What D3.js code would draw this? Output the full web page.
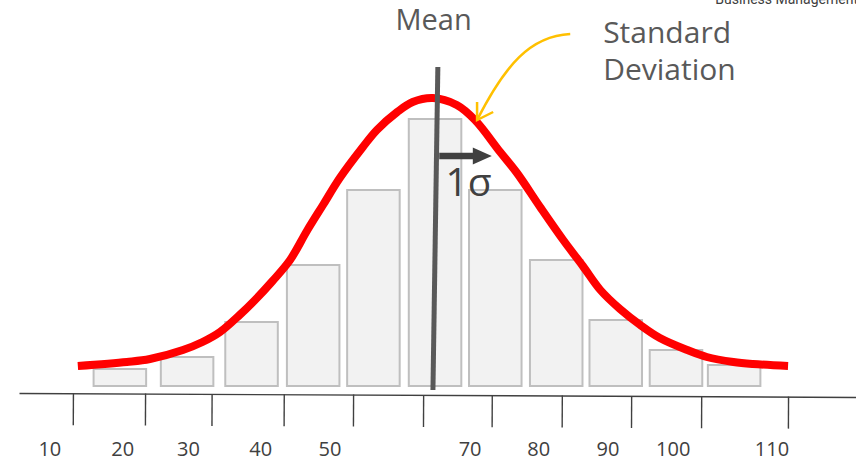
<!DOCTYPE html>
<meta charset="utf-8">
<head>
<title>Normal distribution</title>
<script src="https://d3js.org/d3.v7.min.js"></script>
<style>
body { margin: 0; background: #fff; }
text { font-family: "Segoe UI", "Open Sans", sans-serif; }
.bar { fill: #f2f2f2; stroke: #bfbfbf; stroke-width: 2; }
.axis path, .axis line { stroke: #404040; stroke-width: 1.4; fill: none; }
</style>
</head>
<body>
<script>

// histogram bins (centre of each bin, and its count)
var binCenters = [20.3, 29.9, 39.1, 47.9, 56.5, 65.3, 73.9, 82.6, 91.1, 99.7, 108];
var binCounts  = [17, 29, 64, 121, 196, 267, 196, 126, 66, 36, 21];
var binWidth = 7.5;

// bell curve
var curveX = [14.3, 21.3, 24.6, 29.3, 32.1, 34.6, 37.4, 39.6, 42.1, 44.6, 47, 49.3, 51.7, 55, 57, 59.9, 62.1, 65,
              68.4, 71, 74.6, 77, 80.3, 83.6, 86.4, 88.9, 91.7, 94.6, 97.4, 101.3, 104.1, 107.9, 110.7, 115.7];
var curveY = [20, 24, 27, 36, 44, 54, 71, 86, 105, 126, 155, 181, 208, 239, 256, 274, 284, 288,
              281, 266, 234, 213, 179, 146, 120, 96, 77, 61, 48, 36, 29, 24, 22, 20];

// axis ticks and labels
var tickValues = [13.6, 23.9, 33.4, 43.7, 53.6, 63.6, 73.4, 83.4, 93.3, 103.3, 115.7];
var tickLabels = ["10", "20", "30", "40", "50", "70", "80", "90", "100", "110"];
var labelPos   = [10.3, 20.7, 30.1, 40.4, 50.3, 70.3, 80.1, 90, 99.3, 113.4];

// mean line, sigma arrow
var meanLine = [[65.7, 319], [65, -4]];
var sigma = {x0: 65.9, x1: 73.4, y: 230};

var width = 856, height = 461;

var x = d3.scaleLinear().domain([5.9, 125.4]).range([19, 856]);
var y = d3.scaleLinear().domain([0, 300]).range([386, 86]);

var svg = d3.select("body").append("svg")
    .attr("width", width)
    .attr("height", height);

// header fragment at the top right
svg.append("text")
    .attr("x", 858).attr("y", 4)
    .attr("text-anchor", "end")
    .style("font-family", "Roboto, Arial, sans-serif")
    .style("font-size", "14px")
    .style("fill", "#404040")
    .text("Business Management");

// axis
var axisG = svg.append("g")
    .attr("class", "axis")
    .attr("transform", "translate(0,393) rotate(0.27," + x(5.9) + ",0)")
    .call(d3.axisBottom(x).tickValues(tickValues).tickSize(32).tickSizeOuter(0).tickFormat(""));

svg.selectAll(".tlabel")
    .data(tickLabels)
  .enter().append("text")
    .attr("class", "tlabel")
    .attr("x", function(d, i) { return x(labelPos[i]); })
    .attr("y", 455.5)
    .attr("text-anchor", "middle")
    .style("font-size", "20px")
    .style("fill", "#404040")
    .text(function(d) { return d; });

// bars
svg.selectAll(".bar")
    .data(binCounts)
  .enter().append("rect")
    .attr("class", "bar")
    .attr("x", function(d, i) { return x(binCenters[i] - binWidth / 2); })
    .attr("width", x(binWidth) - x(0))
    .attr("y", function(d) { return y(d); })
    .attr("height", function(d) { return y(0) - y(d); });

// red bell curve
var line = d3.line()
    .x(function(d, i) { return x(curveX[i]); })
    .y(function(d) { return y(d); })
    .curve(d3.curveCatmullRom);

svg.append("path")
    .datum(curveY)
    .attr("d", line)
    .attr("fill", "none")
    .attr("stroke", "#ff0000")
    .attr("stroke-width", 8);

// mean line
svg.append("line")
    .attr("x1", x(meanLine[0][0])).attr("y1", y(meanLine[0][1]))
    .attr("x2", x(meanLine[1][0])).attr("y2", y(meanLine[1][1]))
    .attr("stroke", "#595959")
    .attr("stroke-width", 5);

// sigma arrow
svg.append("line")
    .attr("x1", x(sigma.x0)).attr("y1", y(sigma.y))
    .attr("x2", x(sigma.x1) - 18).attr("y2", y(sigma.y))
    .attr("stroke", "#404040")
    .attr("stroke-width", 6.5);
svg.append("path")
    .attr("d", "M" + x(sigma.x1) + "," + y(sigma.y) +
               "L" + (x(sigma.x1) - 19) + "," + (y(sigma.y) - 8.5) +
               "L" + (x(sigma.x1) - 19) + "," + (y(sigma.y) + 8.5) + "Z")
    .attr("fill", "#404040");

svg.append("text")
    .attr("x", x(66.8)).attr("y", y(190))
    .style("font-size", "39px")
    .style("fill", "#404040")
    .text("1σ");

// labels
svg.append("text")
    .attr("x", x(65.1)).attr("y", y(356))
    .attr("text-anchor", "middle")
    .style("font-size", "29px")
    .style("fill", "#595959")
    .text("Mean");

svg.append("text")
    .attr("x", x(89.3)).attr("y", y(343))
    .style("font-size", "30px")
    .style("fill", "#595959")
    .text("Standard");
svg.append("text")
    .attr("x", x(89.3)).attr("y", y(306))
    .style("font-size", "30px")
    .style("fill", "#595959")
    .text("Deviation");

// yellow pointer to the curve
var p = d3.path();
p.moveTo(x(84.6), y(352));
p.bezierCurveTo(x(78.9), y(350), x(75.3), y(321), x(71.3), y(266));
svg.append("path")
    .attr("d", p.toString())
    .attr("fill", "none")
    .attr("stroke", "#ffc000")
    .attr("stroke-width", 2.5);
svg.append("path")
    .attr("d", "M" + x(71.3) + "," + y(284) + "L" + x(71.3) + "," + y(266) + "L" + x(73.6) + "," + y(274))
    .attr("fill", "none")
    .attr("stroke", "#ffc000")
    .attr("stroke-width", 2.5);

</script>
</body>
